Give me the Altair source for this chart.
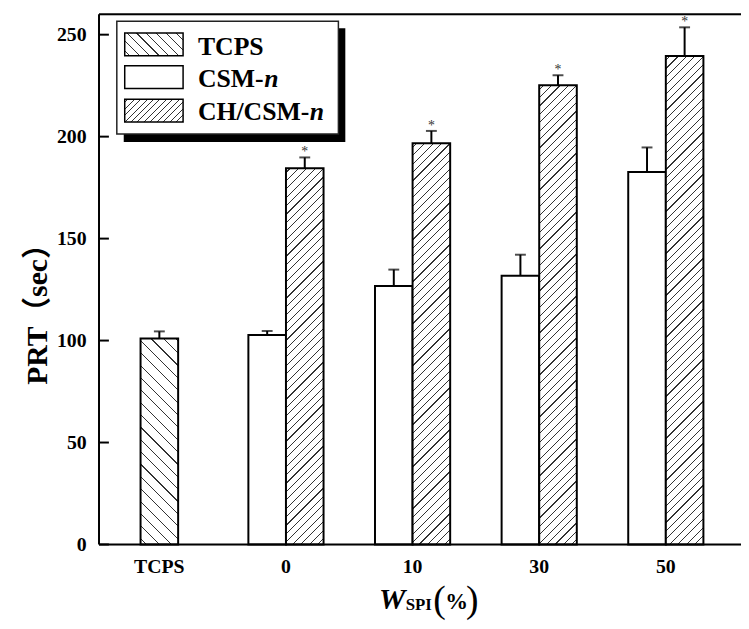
import altair as alt

# ---------------- data ----------------
categories = ["TCPS", "0", "10", "30", "50"]
group_cats = ["0", "10", "30", "50"]
series_names = ["TCPS", "CSM-n", "CH/CSM-n"]
tcps_value = [101.0]
tcps_err = [3.5]
csm_values = [102.7, 126.8, 131.8, 182.7]
csm_err = [2.0, 8.0, 10.3, 12.0]
ch_values = [184.5, 196.8, 225.2, 239.5]
ch_err = [5.3, 6.0, 4.9, 14.1]
y_ticks = [0, 50, 100, 150, 200, 250]
y_max = 260

# ---------------- layout / style ----------------
W = 649
H = 536
BAR_W = 38
PX = H / y_max
SERIF = "Liberation Serif"


def hatch(w, h, pitch, direction, lw=1.2, color="#333333"):
    """Linear gradient that draws 45 degree hatch lines on a w x h rect."""
    L = w + h
    r = h / w
    k = (1 + r) / (1 + r * r)
    if direction == "/":
        g = dict(x1=0, y1=0, x2=k, y2=k * r)
    else:
        g = dict(x1=0, y1=1, x2=k, y2=1 - k * r)
    d = lw / 2 / L
    stops = [{"offset": 0, "color": "white"}]
    pos = pitch / 2
    while pos < L:
        t = pos / L
        a, b = round(max(t - d, 0), 5), round(min(t + d, 1), 5)
        stops += [
            {"offset": a, "color": "white"},
            {"offset": a, "color": color},
            {"offset": b, "color": color},
            {"offset": b, "color": "white"},
        ]
        pos += pitch
    stops.append({"offset": 1, "color": "white"})
    out = {"gradient": "linear"}
    out.update({kk: round(v, 5) for kk, v in g.items()})
    out["stops"] = stops
    return out


tcps_records = [
    {"cat": categories[0], "series": series_names[0], "value": v, "top": v + e,
     "fill": hatch(BAR_W, v * PX, 12.5, "\\")}
    for v, e in zip(tcps_value, tcps_err)
]
group_records = []
for c, v1, e1, v2, e2 in zip(group_cats, csm_values, csm_err, ch_values, ch_err):
    group_records.append({"cat": c, "series": series_names[1], "value": v1, "top": v1 + e1,
                          "fill": "white", "star": ""})
    group_records.append({"cat": c, "series": series_names[2], "value": v2, "top": v2 + e2,
                          "fill": hatch(BAR_W, v2 * PX, 8.5, "/"), "star": "*"})

xscale = alt.Scale(domain=categories, range=[-3, 637], paddingInner=0.40625, paddingOuter=0.203125)
oscale = alt.Scale(domain=series_names[1:], paddingInner=0, paddingOuter=0)
yscale = alt.Scale(domain=[0, y_max], nice=False, zero=True)

x_axis = alt.Axis(title=None, domain=False, ticks=False, grid=False, labelAngle=0,
                  labelFont=SERIF, labelFontWeight="bold", labelFontSize=20,
                  labelColor="black", labelPadding=12)
y_axis = alt.Axis(title=None, domain=False, ticks=False, grid=False, values=y_ticks,
                  labelFont=SERIF, labelFontWeight="bold", labelFontSize=20,
                  labelColor="black", labelPadding=13)

tcps_data = alt.Data(values=tcps_records)
group_data = alt.Data(values=group_records)


def X():
    return alt.X("cat:N", scale=xscale, axis=x_axis, sort=None)


def Y(field):
    return alt.Y(field, scale=yscale, axis=y_axis)


def XO():
    return alt.XOffset("series:N", scale=oscale, sort=None)


tcps_bar = alt.Chart(tcps_data).mark_bar(size=BAR_W, stroke="black", strokeWidth=2).encode(
    x=X(), y=Y("value:Q"),
    fill=alt.Fill("fill:N", scale=None, legend=None),
)
tcps_err_rule = alt.Chart(tcps_data).mark_rule(color="black", strokeWidth=2).encode(
    x=X(), y=Y("value:Q"), y2="top:Q",
)
tcps_cap = alt.Chart(tcps_data).mark_tick(color="black", thickness=2, size=11).encode(
    x=X(), y=Y("top:Q"),
)

grp_bar = alt.Chart(group_data).mark_bar(stroke="black", strokeWidth=2).encode(
    x=X(), xOffset=XO(), y=Y("value:Q"),
    fill=alt.Fill("fill:N", scale=None, legend=None),
)
grp_err_rule = alt.Chart(group_data).mark_rule(color="black", strokeWidth=2).encode(
    x=X(), xOffset=XO(), y=Y("value:Q"), y2="top:Q",
)
grp_cap = alt.Chart(group_data).mark_tick(color="black", thickness=2, size=11).encode(
    x=X(), xOffset=XO(), y=Y("top:Q"),
)
grp_star = alt.Chart(group_data).mark_text(
    font=SERIF, fontSize=14, color="#333333", baseline="alphabetic", dy=-1
).encode(
    x=X(), xOffset=XO(), y=Y("top:Q"), text="star:N",
)

tick_data = alt.Data(values=[{"t": t} for t in y_ticks])
y_inner_ticks = alt.Chart(tick_data).mark_rule(color="black", strokeWidth=2).encode(
    y=Y("t:Q"), x=alt.value(0), x2=alt.value(10),
)

one = alt.Data(values=[{"k": 1}])


def rule(**enc):
    return alt.Chart(one).mark_rule(color="black", strokeWidth=2).encode(**enc)


frame = [
    rule(x=alt.value(0), x2=alt.value(W), y=alt.value(0)),
    rule(x=alt.value(0), x2=alt.value(W), y=alt.value(H)),
    rule(x=alt.value(0), y=alt.value(0), y2=alt.value(H)),
]


def rect(x, x2, y, y2, **props):
    return alt.Chart(one).mark_rect(**props).encode(
        x=alt.value(x), x2=alt.value(x2), y=alt.value(y), y2=alt.value(y2))


def text(s, x, y, size, weight="bold", style="normal", angle=0, align="left",
         baseline="alphabetic", font=SERIF, color="black"):
    return alt.Chart(one).mark_text(
        text=s, font=font, fontSize=size, fontWeight=weight, fontStyle=style,
        angle=angle, align=align, baseline=baseline, color=color
    ).encode(x=alt.value(x), y=alt.value(y))


legend = [
    rect(25, 249, 14, 129, fill="black"),
    rect(18, 242, 7, 121, fill="white", stroke="#222222", strokeWidth=1.5),
    rect(26, 85, 19, 42, fill=hatch(59, 23, 10, "\\", lw=1.1), stroke="black", strokeWidth=1.5),
    rect(26, 85, 52, 75, fill="white", stroke="black", strokeWidth=1.5),
    rect(26, 85, 86, 109, fill=hatch(59, 23, 6.5, "/", lw=1.0), stroke="black", strokeWidth=1.5),
    text("TCPS", 100, 41, 26),
    text("CSM-", 100, 74, 26),
    text("n", 167, 74, 26, style="italic"),
    text("CH/CSM-", 100, 107, 26),
    text("n", 213, 107, 26, style="italic"),
]

titles = [
    text("PRT（sec）", -62, 296, 30, angle=270, align="center", baseline="middle",
         font="Liberation Serif, Noto Sans CJK SC"),
    text("W", 283, 601, 30, style="italic"),
    text("SPI", 310, 602, 17),
    text("(", 338, 604, 38, weight="normal"),
    text("%", 350, 601, 23),
    text(")", 371, 604, 38, weight="normal"),
]

chart = alt.layer(
    tcps_bar, tcps_err_rule, tcps_cap,
    grp_bar, grp_err_rule, grp_cap, grp_star,
    y_inner_ticks, *frame, *legend, *titles,
).properties(
    width=W, height=H,
    autosize=alt.AutoSizeParams(type="none"),
    padding={"left": 92, "top": 3, "right": 0, "bottom": 75},
).configure_view(stroke=None).configure(background="white")

chart.save("out.html", embed_options={"renderer": "svg", "actions": False})
